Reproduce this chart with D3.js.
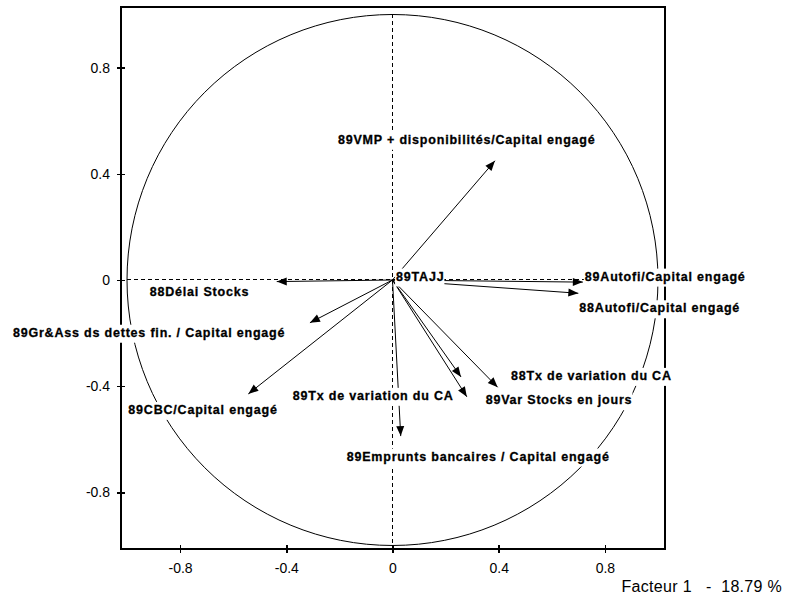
<!DOCTYPE html>
<html>
<head>
<meta charset="utf-8">
<script src="https://cdn.jsdelivr.net/npm/d3@7"></script>
<style>
  body { margin: 0; background: #fff; }
  svg { display: block; font-family: "Liberation Sans", Arial, sans-serif; }
</style>
</head>
<body>
<svg id="chart" width="787" height="604"></svg>
<script>
// Variables of the correlation circle (factor 1 on x, factor 2 on y)
const variables = [
    "89VMP + disponibilités/Capital engagé",
    "89Autofi/Capital engagé",
    "88Autofi/Capital engagé",
    "88Délai Stocks",
    "89Gr&Ass ds dettes fin. / Capital engagé",
    "89CBC/Capital engagé",
    "89Tx de variation du CA",
    "88Tx de variation du CA",
    "89Var Stocks en jours",
    "89Emprunts bancaires / Capital engagé",
    "89TAJJ"
];
const factor1 = [0.386, 0.717, 0.700, -0.436, -0.311, -0.543, 0.280, 0.258, 0.396, 0.031, 0.004];
const factor2 = [0.449, -0.008, -0.050, -0.006, -0.161, -0.429, -0.440, -0.365, -0.404, -0.588, -0.002];
const xTicks = [-0.8, -0.4, 0, 0.4, 0.8];
const yTicks = [-0.8, -0.4, 0, 0.4, 0.8];
const xTitle = "Facteur 1   -  18.79 %";

// label placement, in pixels from the arrow tip (start of the text, baseline)
const labelOffsets = [[-157, -17], [2, -1.5], [1, 19], [-127, 14], [-297, 14], [-120, 20],
                      [-174, 3], [50, 3], [-12, 17], [-54, 24.5], [2.5, 0]];

const data = variables.map((name, i) => ({ name, x: factor1[i], y: factor2[i], off: labelOffsets[i] }));

const svg = d3.select("#chart");
const mLeft = 121, mRight = 665, mTop = 7, mBottom = 549;

const x = d3.scaleLinear().domain([-1.0226, 1.0264]).range([mLeft, mRight]);
const y = d3.scaleLinear().domain([-1.0132, 1.0282]).range([mBottom, mTop]);

// frame
svg.append("rect")
    .attr("x", mLeft).attr("y", mTop)
    .attr("width", mRight - mLeft).attr("height", mBottom - mTop)
    .attr("fill", "none").attr("stroke", "#000").attr("stroke-width", 2)
    .attr("shape-rendering", "crispEdges");

// axes
const fmt = d => d === 0 ? "0" : String(d);
const xAxis = svg.append("g")
    .attr("transform", `translate(0,${mBottom})`)
    .call(d3.axisBottom(x).tickValues(xTicks).tickFormat(fmt).tickSize(4).tickPadding(10));
xAxis.selectAll(".tick line").attr("y1", -4);
const yAxis = svg.append("g")
    .attr("transform", `translate(${mLeft},0)`)
    .call(d3.axisLeft(y).tickValues(yTicks).tickFormat(fmt).tickSize(4).tickPadding(7));
yAxis.selectAll(".tick line").attr("x1", 4);
svg.selectAll(".domain").remove();
svg.selectAll(".tick line").attr("stroke-width", 1.5).attr("shape-rendering", "crispEdges");
svg.selectAll(".tick text")
    .attr("font-family", "'Liberation Sans', Arial, sans-serif")
    .attr("font-size", 14).attr("fill", "#000");

svg.append("text")
    .attr("x", 782).attr("y", 591.5)
    .attr("text-anchor", "end")
    .attr("font-size", 16)
    .attr("letter-spacing", 0.3)
    .style("white-space", "pre")
    .text(xTitle);

// unit circle
const r = x(1) - x(0);
svg.append("circle")
    .attr("cx", x(0)).attr("cy", y(0)).attr("r", r)
    .attr("fill", "none").attr("stroke", "#000").attr("stroke-width", 1);

// dashed axes through the origin
svg.append("line")
    .attr("x1", x(-1)).attr("x2", x(1)).attr("y1", y(0)).attr("y2", y(0))
    .attr("stroke", "#000").attr("stroke-dasharray", "4,3")
    .attr("shape-rendering", "crispEdges");
svg.append("line")
    .attr("x1", x(0)).attr("x2", x(0)).attr("y1", y(1)).attr("y2", y(-1))
    .attr("stroke", "#000").attr("stroke-dasharray", "4,3")
    .attr("shape-rendering", "crispEdges");

// arrow shafts
svg.append("g").selectAll("line")
    .data(data)
    .join("line")
    .attr("x1", x(0)).attr("y1", y(0))
    .attr("x2", d => x(d.x)).attr("y2", d => y(d.y))
    .attr("stroke", "#000").attr("stroke-width", 1);

// labels with white backgrounds
const labels = svg.append("g").selectAll("g")
    .data(data)
    .join("g");
labels.append("text")
    .attr("x", d => x(d.x) + d.off[0])
    .attr("y", d => y(d.y) + d.off[1])
    .attr("font-size", 12.5)
    .attr("font-weight", "bold")
    .attr("letter-spacing", 0.8)
    .attr("stroke", "#000").attr("stroke-width", 0.3)
    .text(d => d.name);
labels.each(function () {
    const g = d3.select(this);
    const b = g.select("text").node().getBBox();
    g.insert("rect", "text")
        .attr("x", b.x - 1).attr("y", b.y - 1)
        .attr("width", b.width + 1).attr("height", b.height + 4)
        .attr("fill", "#fff");
});

// arrow heads
const headLen = 10, headHalf = 4;
svg.append("g").selectAll("path")
    .data(data.filter(d => Math.hypot(d.x, d.y) > 0.02))
    .join("path")
    .attr("d", d => {
        const tx = x(d.x), ty = y(d.y);
        const a = Math.atan2(ty - y(0), tx - x(0));
        const bx = tx - headLen * Math.cos(a), by = ty - headLen * Math.sin(a);
        const px = -Math.sin(a) * headHalf, py = Math.cos(a) * headHalf;
        return `M${tx},${ty}L${bx + px},${by + py}L${bx - px},${by - py}Z`;
    })
    .attr("fill", "#000");
</script>
</body>
</html>
